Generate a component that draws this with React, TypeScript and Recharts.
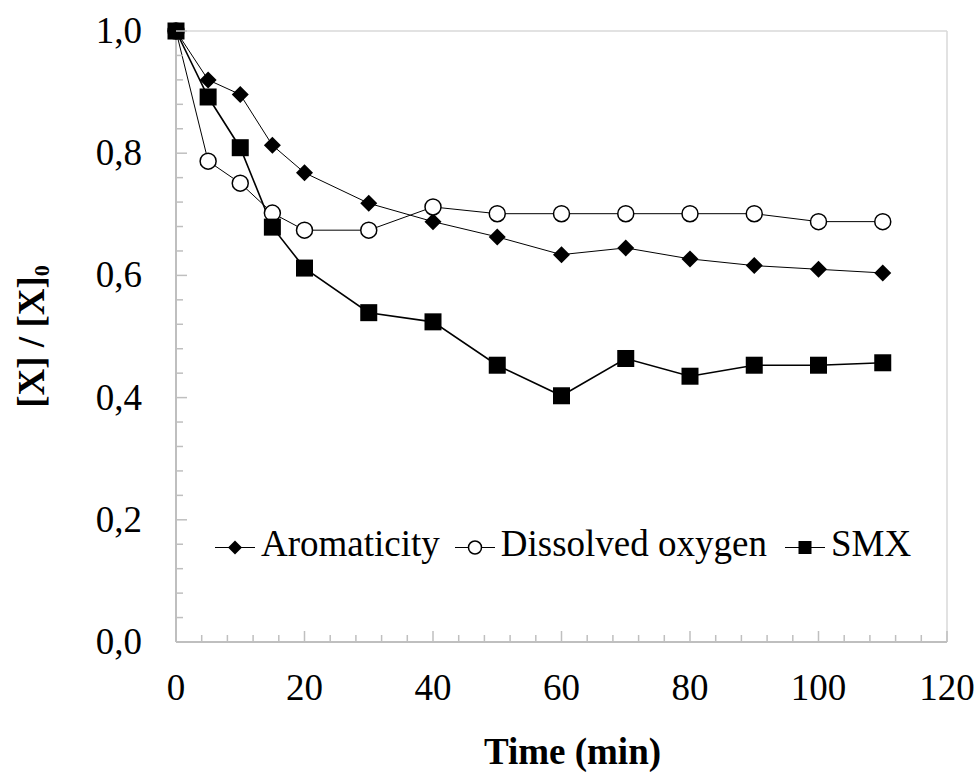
import { LineChart, Line, XAxis, YAxis, Legend, ReferenceLine } from "recharts";

const FONT = "'Liberation Serif', 'Times New Roman', Times, serif";
const AXIS_GREY = "#bfbfbf";
const BORDER_GREY = "#d9d9d9";

// sampling times (min)
const times = [0, 5, 10, 15, 20, 30, 40, 50, 60, 70, 80, 90, 100, 110];
// [X]/[X]0
const aromaticity = [1.0, 0.92, 0.896, 0.813, 0.768, 0.718, 0.688, 0.663, 0.634, 0.645, 0.627, 0.616, 0.61, 0.604];
const dissolvedOxygen = [1.0, 0.787, 0.751, 0.702, 0.674, 0.674, 0.712, 0.701, 0.701, 0.701, 0.701, 0.701, 0.688, 0.688];
const smx = [1.0, 0.892, 0.809, 0.679, 0.612, 0.539, 0.524, 0.453, 0.403, 0.464, 0.435, 0.453, 0.453, 0.457];

const seriesNames = ["Aromaticity", "Dissolved oxygen", "SMX"];

const xMajorTicks = [0, 20, 40, 60, 80, 100, 120];
const yMajorTicks = [0, 0.2, 0.4, 0.6, 0.8, 1.0];
const xMinorStep = 4;
const yMinorStep = 0.04;

const xTicks = Array.from({ length: 120 / xMinorStep + 1 }, (_, i) => i * xMinorStep);
const yTicks = Array.from({ length: Math.round(1 / yMinorStep) + 1 }, (_, i) =>
	Number((i * yMinorStep).toFixed(2)),
);

const chartData = times.map((t, i) => ({
	time: t,
	aromaticity: aromaticity[i],
	oxygen: dissolvedOxygen[i],
	smx: smx[i],
}));

const isMajor = (v: number, majors: number[]) => majors.some((m) => Math.abs(m - v) < 1e-6);

const YTick = ({ x, y, payload }: any) => {
	const major = isMajor(payload.value, yMajorTicks);
	return (
		<g>
			<line x1={x} x2={x + (major ? 11 : 7)} y1={y} y2={y} stroke={AXIS_GREY} strokeWidth={1.5} />
			{major && (
				<text x={x - 34} y={y} dy={12} textAnchor="end" fontSize={37} style={{ fontFamily: FONT }} fill="#000">
					{payload.value.toFixed(1).replace(".", ",")}
				</text>
			)}
		</g>
	);
};

const XTick = ({ x, y, payload }: any) => {
	const major = isMajor(payload.value, xMajorTicks);
	return (
		<g>
			<line x1={x} x2={x} y1={y} y2={y - (major ? 11 : 7)} stroke={AXIS_GREY} strokeWidth={1.5} />
			{major && (
				<text x={x} y={y} dy={58} textAnchor="middle" fontSize={37} style={{ fontFamily: FONT }} fill="#000">
					{payload.value}
				</text>
			)}
		</g>
	);
};

const YTitle = (props: any) => {
	const vb = props.viewBox ?? { x: 0, y: 31, width: 176, height: 611 };
	const bx = vb.x + 44;
	const cy = vb.y + vb.height / 2;
	return (
		<text
			x={bx}
			y={cy}
			transform={`rotate(-90, ${bx}, ${cy})`}
			textAnchor="middle"
			fontSize={37}
			fontWeight="bold"
			style={{ fontFamily: FONT }}
			fill="#000"
		>
			[X] / [X]
			<tspan fontSize={22} dy={5}>
				0
			</tspan>
		</text>
	);
};

const XTitle = (props: any) => {
	const vb = props.viewBox ?? { x: 176, y: 642, width: 771, height: 130 };
	return (
		<text
			x={vb.x + vb.width / 2 + 11}
			y={vb.y + 122}
			textAnchor="middle"
			fontSize={37}
			fontWeight="bold"
			style={{ fontFamily: FONT }}
			fill="#000"
		>
			Time (min)
		</text>
	);
};

const Diamond = ({ cx, cy, r = 8.5 }: any) => (
	<polygon points={`${cx},${cy - r} ${cx + r},${cy} ${cx},${cy + r} ${cx - r},${cy}`} fill="#000" />
);
const Circle = ({ cx, cy, r = 8 }: any) => (
	<circle cx={cx} cy={cy} r={r} fill="#fff" stroke="#000" strokeWidth={1.5} />
);
const Square = ({ cx, cy, r = 8.5 }: any) => (
	<rect x={cx - r} y={cy - r} width={r * 2} height={r * 2} fill="#000" />
);

const markers = [Diamond, Circle, Square];
const legendMarkerSize = [7, 6.5, 6.5];

const LegendContent = () => (
	<div style={{ display: "flex", alignItems: "center", height: 40, fontFamily: FONT, fontSize: 37, lineHeight: "40px", whiteSpace: "nowrap", color: "#000" }}>
		{seriesNames.map((name, i) => {
			const M = markers[i];
			return (
				<div key={name} style={{ display: "flex", alignItems: "center", marginRight: i === 0 ? 15 : 18 }}>
					<svg width={40} height={40} style={{ marginRight: 6 }}>
						<line x1={0} x2={40} y1={23.5} y2={23.5} stroke="#000" strokeWidth={1} />
						<M cx={20} cy={23.5} r={legendMarkerSize[i]} />
					</svg>
					<span>{name}</span>
				</div>
			);
		})}
	</div>
);

export default function App() {
	return (
		<div style={{ position: "absolute", left: 0, top: 0, background: "#fff", fontFamily: FONT }}>
			<LineChart width={979} height={772} data={chartData} margin={{ top: 31, right: 32, left: 0, bottom: 0 }}>
				<XAxis
					dataKey="time"
					type="number"
					domain={[0, 120]}
					ticks={xTicks}
					interval={0}
					tickSize={0}
					tickMargin={0}
					tickLine={false}
					tick={XTick}
					height={130}
					axisLine={{ stroke: AXIS_GREY, strokeWidth: 2 }}
					label={XTitle}
				/>
				<YAxis
					type="number"
					domain={[0, 1]}
					ticks={yTicks}
					interval={0}
					tickSize={0}
					tickMargin={0}
					tickLine={false}
					tick={YTick}
					width={176}
					axisLine={{ stroke: AXIS_GREY, strokeWidth: 2 }}
					label={YTitle}
				/>
				<ReferenceLine y={1} stroke={BORDER_GREY} strokeWidth={1.5} />
				<ReferenceLine x={120} stroke={BORDER_GREY} strokeWidth={1.5} />
				<Legend
					layout="horizontal"
					verticalAlign="middle"
					align="center"
					content={LegendContent}
					wrapperStyle={{ left: 215, top: 524, width: "auto", height: 40 }}
				/>
				<Line
					dataKey="aromaticity"
					stroke="#000"
					strokeWidth={1}
					isAnimationActive={false}
					dot={(p: any) => <Diamond key={`a${p.index}`} cx={p.cx} cy={p.cy} />}
				/>
				<Line
					dataKey="oxygen"
					stroke="#000"
					strokeWidth={1}
					isAnimationActive={false}
					dot={(p: any) => <Circle key={`o${p.index}`} cx={p.cx} cy={p.cy} />}
				/>
				<Line
					dataKey="smx"
					stroke="#000"
					strokeWidth={1.6}
					isAnimationActive={false}
					dot={(p: any) => <Square key={`s${p.index}`} cx={p.cx} cy={p.cy} />}
				/>
			</LineChart>
		</div>
	);
}
